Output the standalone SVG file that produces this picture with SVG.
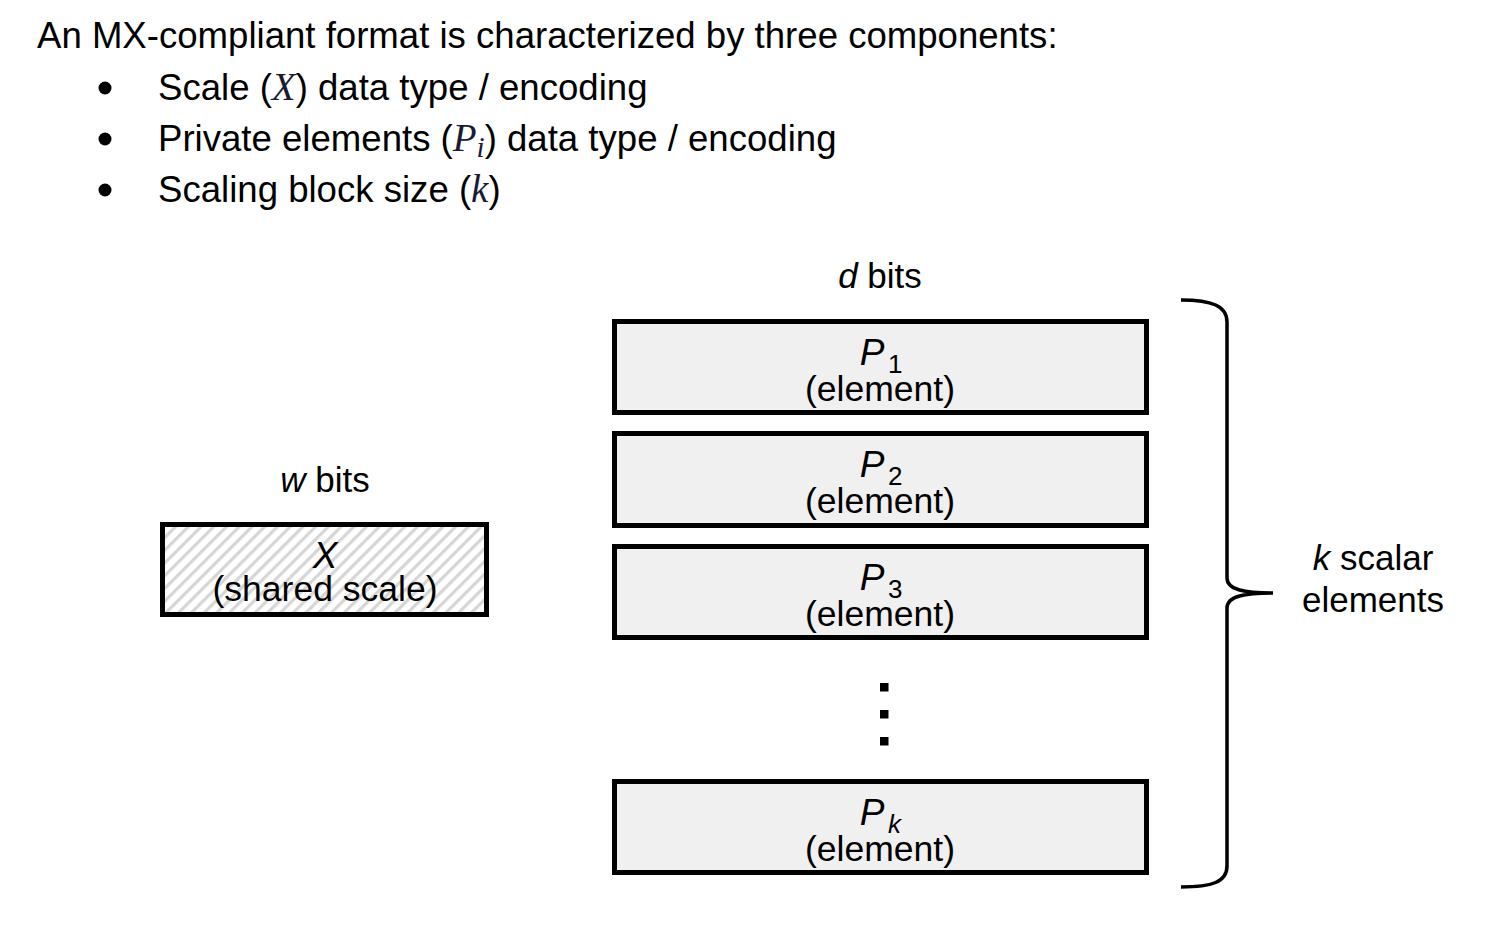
<svg xmlns="http://www.w3.org/2000/svg" width="1494" height="930" viewBox="0 0 1494 930">
<style>
  text { font-family: "Liberation Sans", Arial, sans-serif; fill: #000; }
  .hdr { font-size: 36.6px; }
  .math { font-family: "Liberation Serif", "Times New Roman", serif; font-style: italic; fill: #1a1a33; font-size: 39px; }
  .msub { font-size: 29px; }
  .lbl { font-size: 35px; }
  .it { font-style: italic; }
  .box { fill: #f0f0f0; stroke: #000; stroke-width: 5; }
  .sym { font-size: 37px; font-style: italic; }
  .sub { font-size: 26px; }
  .el { font-size: 35.5px; }
</style>
<defs>
  <pattern id="hatch" patternUnits="userSpaceOnUse" width="9" height="9" patternTransform="rotate(45)">
    <rect x="0" y="0" width="9" height="9" fill="#ffffff"/>
    <rect x="0" y="0" width="3.2" height="9" fill="#d6d6d6"/>
  </pattern>
</defs>
<rect width="1494" height="930" fill="#ffffff"/>

<g id="header">
  <text class="hdr" x="37" y="48">An MX-compliant format is characterized by three components:</text>
  <circle cx="105" cy="88" r="6.5" fill="#000"/>
  <circle cx="105" cy="139" r="6.5" fill="#000"/>
  <circle cx="105" cy="190" r="6.5" fill="#000"/>
  <text class="hdr" x="158" y="100">Scale (<tspan class="math">X</tspan>) data type / encoding</text>
  <text class="hdr" x="158" y="151">Private elements (<tspan class="math">P</tspan><tspan class="math msub" dy="6">i</tspan><tspan dy="-6">) data type / encoding</tspan></text>
  <text class="hdr" x="158" y="202">Scaling block size (<tspan class="math">k</tspan>)</text>
</g>

<g id="d-bits">
  <text class="lbl" x="880" y="288" text-anchor="middle"><tspan class="it">d</tspan> bits</text>
</g>

<g id="w-bits">
  <text class="lbl" x="325" y="492" text-anchor="middle"><tspan class="it">w</tspan> bits</text>
</g>

<g id="scale-X">
  <rect x="162.5" y="524.5" width="324" height="90" fill="url(#hatch)" stroke="#000" stroke-width="5"/>
  <text class="sym" x="325" y="568" text-anchor="middle">X</text>
  <text class="el" x="325" y="601" text-anchor="middle">(shared scale)</text>
</g>

<g id="P1">
  <rect class="box" x="614.5" y="321.5" width="532" height="91"/>
  <text class="sym" x="872" y="365" text-anchor="middle">P</text>
  <text class="sub" x="888" y="373">1</text>
  <text class="el" x="880" y="401" text-anchor="middle">(element)</text>
</g>

<g id="P2">
  <rect class="box" x="614.5" y="433.5" width="532" height="92"/>
  <text class="sym" x="872" y="477" text-anchor="middle">P</text>
  <text class="sub" x="888" y="485">2</text>
  <text class="el" x="880" y="513" text-anchor="middle">(element)</text>
</g>

<g id="P3">
  <rect class="box" x="614.5" y="546.5" width="532" height="91"/>
  <text class="sym" x="872" y="590" text-anchor="middle">P</text>
  <text class="sub" x="888" y="598">3</text>
  <text class="el" x="880" y="626" text-anchor="middle">(element)</text>
</g>

<g id="ellipsis">
  <rect x="880" y="683" width="8.5" height="8.5" fill="#000"/>
  <rect x="880" y="710" width="8.5" height="8.5" fill="#000"/>
  <rect x="880" y="737" width="8.5" height="8.5" fill="#000"/>
</g>

<g id="Pk">
  <rect class="box" x="614.5" y="781.5" width="532" height="91"/>
  <text class="sym" x="872" y="825" text-anchor="middle">P</text>
  <text class="sub it" x="888" y="833">k</text>
  <text class="el" x="880" y="861" text-anchor="middle">(element)</text>
</g>

<g id="connectors">
  <path d="M 1181 300 C 1212 300 1227 306 1227 322 L 1227 578 C 1227 590 1245 593 1273 593 C 1245 593 1227 596 1227 608 L 1227 866 C 1227 882 1212 887 1181 887" fill="none" stroke="#000" stroke-width="3.5"/>
</g>

<g id="k-label">
  <text class="lbl" x="1373" y="570" text-anchor="middle"><tspan class="it">k</tspan> scalar</text>
  <text class="lbl" x="1373" y="612" text-anchor="middle">elements</text>
</g>
</svg>
